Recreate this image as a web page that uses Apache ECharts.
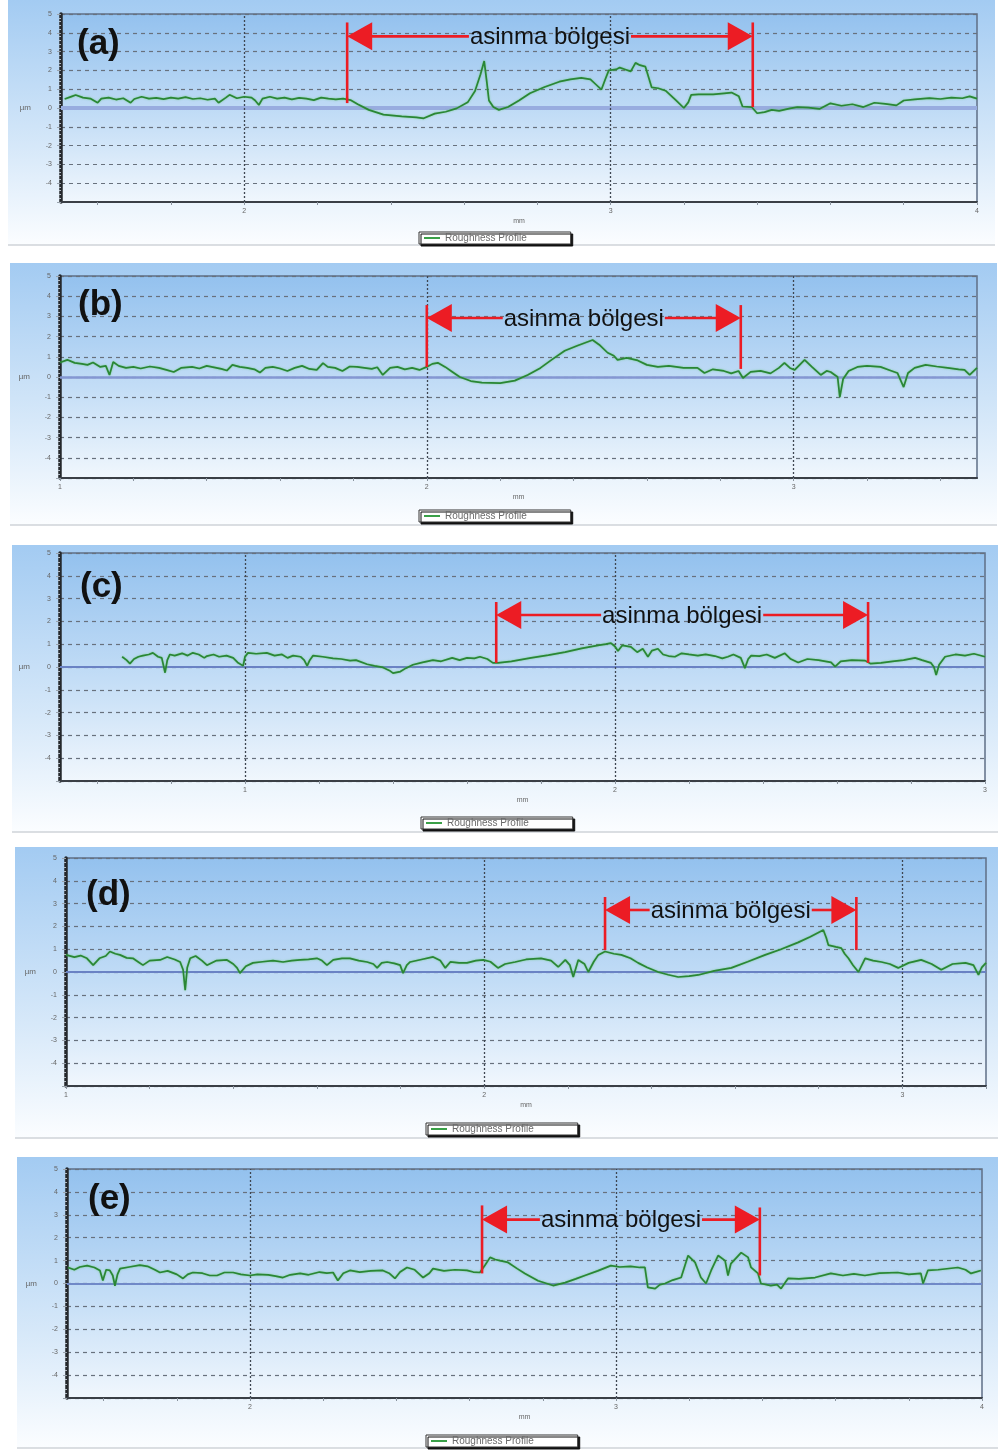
<!DOCTYPE html>
<html><head><meta charset="utf-8">
<script src="https://cdn.jsdelivr.net/npm/echarts@6/dist/echarts.min.js"></script>
<style>html,body{margin:0;padding:0;background:#fff}#c{width:998px;height:1450px}</style>
</head><body><div id="c"></div>
<script>
// ---------------- DATA ----------------
const seriesName = 'Roughness Profile';
const wearLabel = 'asinma bölgesi';
const panelLabels = ['(a)', '(b)', '(c)', '(d)', '(e)'];
const yLabelHidden = -5;

// x ranges (mm)
const xRangeA = [1.5, 4], xRangeB = [1, 3.5], xRangeC = [0.5, 3], xRangeD = [1, 3.2], xRangeE = [1.5, 4];
// x tick & label values
const xTicksA = [1.6,1.8,2.0,2.2,2.4,2.6,2.8,3.0,3.2,3.4,3.6,3.8,4.0];
const xTicksB = [1.0,1.2,1.4,1.6,1.8,2.0,2.2,2.4,2.6,2.8,3.0,3.2,3.4];
const xTicksC = [0.6,0.8,1.0,1.2,1.4,1.6,1.8,2.0,2.2,2.4,2.6,2.8,3.0];
const xTicksD = [1.0,1.2,1.4,1.6,1.8,2.0,2.2,2.4,2.6,2.8,3.0,3.2];
const xTicksE = [1.6,1.8,2.0,2.2,2.4,2.6,2.8,3.0,3.2,3.4,3.6,3.8,4.0];
const xLabelsA = [2, 3, 4], xLabelsB = [1, 2, 3], xLabelsC = [1, 2, 3], xLabelsD = [1, 2, 3], xLabelsE = [2, 3, 4];

// roughness profiles [mm, µm]
const profileA = [[1.51,0.48],[1.53,0.62],[1.54,0.69],[1.56,0.55],[1.58,0.5],[1.60,0.28],[1.61,0.5],[1.63,0.55],[1.65,0.45],[1.67,0.52],[1.69,0.28],[1.70,0.48],[1.72,0.6],[1.74,0.5],[1.76,0.54],[1.78,0.47],[1.80,0.55],[1.82,0.5],[1.84,0.58],[1.86,0.48],[1.88,0.52],[1.90,0.44],[1.92,0.5],[1.93,0.28],[1.95,0.55],[1.96,0.7],[1.98,0.52],[2.00,0.6],[2.02,0.55],[2.03,0.4],[2.04,0.16],[2.05,0.5],[2.07,0.6],[2.09,0.5],[2.11,0.55],[2.13,0.46],[2.15,0.54],[2.17,0.5],[2.19,0.42],[2.21,0.55],[2.23,0.5],[2.25,0.46],[2.27,0.5],[2.29,0.42],
[2.31,0.2],[2.34,-0.1],[2.38,-0.35],[2.43,-0.45],[2.47,-0.5],[2.49,-0.55],[2.52,-0.3],[2.55,-0.2],[2.58,-0.02],[2.61,0.3],[2.63,0.9],[2.645,1.8],[2.655,2.5],[2.662,1.4],[2.668,0.4],[2.68,0.05],[2.695,-0.1],[2.72,0.05],[2.75,0.4],[2.78,0.78],[2.82,1.12],[2.86,1.4],[2.89,1.52],[2.92,1.6],[2.945,1.52],[2.96,1.25],[2.975,0.98],[2.985,1.5],[2.995,2.0],[3.015,2.05],[3.025,2.15],[3.04,2.05],[3.055,1.95],[3.068,2.4],[3.08,2.28],[3.095,2.2],[3.112,1.1],[3.13,1.05],[3.15,0.92],[3.178,0.42],[3.2,0.0],[3.212,0.3],[3.22,0.7],[3.24,0.72],[3.28,0.72],[3.31,0.78],[3.33,0.82],[3.35,0.62],[3.36,0.08],[3.385,0.05],[3.4,-0.28],[3.42,-0.22],[3.44,-0.1],[3.46,-0.15],[3.49,-0.02],[3.51,0.05],[3.54,0.02],[3.57,-0.05],[3.6,0.25],[3.63,0.12],[3.66,0.2],[3.69,0.05],[3.72,0.28],[3.75,0.22],[3.78,0.14],[3.8,0.4],[3.83,0.46],[3.87,0.53],[3.9,0.48],[3.93,0.55],[3.96,0.52],[3.98,0.62],[4.0,0.5]];

const profileB = [[1.0,0.72],[1.02,0.85],[1.04,0.7],[1.06,0.65],[1.075,0.6],[1.09,0.72],[1.11,0.5],[1.125,0.55],[1.135,0.1],[1.145,0.74],[1.16,0.55],[1.18,0.45],[1.2,0.5],[1.22,0.42],[1.245,0.52],[1.27,0.45],[1.29,0.35],[1.31,0.25],[1.33,0.45],[1.36,0.5],[1.38,0.42],[1.4,0.55],[1.42,0.48],[1.44,0.4],[1.455,0.32],[1.47,0.6],[1.49,0.5],[1.51,0.45],[1.53,0.38],[1.545,0.22],[1.56,0.45],[1.58,0.5],[1.6,0.42],[1.62,0.3],[1.64,0.45],[1.66,0.55],[1.68,0.4],[1.7,0.35],[1.717,0.69],[1.73,0.5],[1.75,0.45],[1.77,0.3],[1.79,0.52],[1.81,0.5],[1.83,0.45],[1.85,0.4],[1.865,0.48],[1.88,0.1],[1.9,0.45],[1.92,0.5],[1.94,0.38],[1.96,0.45],[1.98,0.35],[2.0,0.5],
[2.015,0.65],[2.03,0.7],[2.05,0.5],[2.07,0.25],[2.09,0.0],[2.12,-0.2],[2.15,-0.28],[2.2,-0.3],[2.24,-0.18],[2.275,0.1],[2.31,0.45],[2.34,0.85],[2.376,1.3],[2.41,1.55],[2.452,1.83],[2.47,1.6],[2.493,1.2],[2.51,1.05],[2.52,0.85],[2.545,0.95],[2.575,0.82],[2.6,0.6],[2.63,0.5],[2.66,0.55],[2.7,0.45],[2.738,0.45],[2.757,0.2],[2.78,0.38],[2.81,0.3],[2.83,0.18],[2.85,0.3],[2.862,-0.05],[2.883,0.25],[2.91,0.3],[2.937,0.18],[2.96,0.45],[2.975,0.7],[2.99,0.45],[3.003,0.35],[3.03,0.85],[3.05,0.5],[3.074,0.1],[3.09,0.3],[3.101,0.25],[3.12,0.0],[3.126,-1.0],[3.135,-0.1],[3.15,0.3],[3.174,0.5],[3.2,0.55],[3.237,0.5],[3.26,0.35],[3.283,0.2],[3.3,-0.5],[3.312,0.2],[3.33,0.45],[3.36,0.6],[3.39,0.52],[3.42,0.45],[3.45,0.38],[3.466,0.35],[3.48,0.1],[3.5,0.45]];

const profileC = [[0.668,0.45],[0.68,0.3],[0.689,0.15],[0.70,0.35],[0.712,0.45],[0.724,0.5],[0.74,0.55],[0.751,0.62],[0.765,0.45],[0.775,0.4],[0.784,-0.25],[0.79,0.3],[0.797,0.55],[0.81,0.5],[0.83,0.6],[0.845,0.5],[0.859,0.62],[0.875,0.55],[0.89,0.4],[0.897,0.48],[0.915,0.55],[0.93,0.45],[0.95,0.5],[0.968,0.4],[0.98,0.2],[0.995,0.05],[1.0,0.45],[1.008,0.62],[1.03,0.58],[1.059,0.62],[1.08,0.5],[1.1,0.55],[1.115,0.4],[1.13,0.5],[1.15,0.45],[1.16,0.3],[1.168,0.05],[1.175,0.3],[1.184,0.5],[1.21,0.45],[1.238,0.38],[1.26,0.35],[1.284,0.28],[1.3,0.3],[1.33,0.12],[1.35,0.05],[1.373,-0.02],[1.39,-0.15],[1.4,-0.27],[1.42,-0.2],[1.435,-0.05],[1.454,0.1],[1.48,0.2],[1.508,0.3],[1.53,0.25],[1.56,0.4],[1.58,0.3],[1.6,0.4],[1.62,0.38],[1.635,0.45],[1.655,0.35],[1.67,0.18],[1.684,0.18],[1.72,0.25],[1.773,0.4],[1.82,0.52],[1.865,0.65],[1.91,0.82],[1.954,0.95],[1.975,1.0],[1.989,1.05],[2.0,0.9],[2.008,0.7],[2.02,0.95],[2.043,0.88],[2.06,0.65],[2.075,0.8],[2.089,0.45],[2.1,0.72],[2.116,0.8],[2.13,0.55],[2.145,0.48],[2.162,0.45],[2.18,0.6],[2.2,0.55],[2.224,0.5],[2.245,0.55],[2.27,0.48],[2.29,0.38],[2.305,0.45],[2.32,0.55],[2.34,0.4],[2.351,-0.05],[2.36,0.35],[2.368,0.5],[2.39,0.48],[2.41,0.55],[2.432,0.4],[2.459,0.6],[2.475,0.35],[2.495,0.2],[2.52,0.35],[2.55,0.3],[2.584,0.2],[2.595,0.02],[2.61,0.25],[2.64,0.3],[2.676,0.28],[2.69,0.15],[2.719,0.18],[2.75,0.25],[2.78,0.3],[2.811,0.4],[2.83,0.3],[2.854,0.18],[2.862,0.0],[2.868,-0.35],[2.876,0.1],[2.892,0.45],[2.92,0.55],[2.946,0.5],[2.97,0.58],[3.0,0.45]];

const profileD = [[1.0,0.75],[1.02,0.65],[1.035,0.72],[1.05,0.6],[1.065,0.3],[1.08,0.6],[1.095,0.7],[1.105,0.9],[1.118,0.8],[1.129,0.75],[1.145,0.62],[1.16,0.6],[1.172,0.45],[1.184,0.3],[1.2,0.5],[1.225,0.53],[1.242,0.66],[1.26,0.55],[1.273,0.44],[1.28,0.1],[1.285,-0.8],[1.29,0.2],[1.297,0.6],[1.31,0.7],[1.325,0.5],[1.337,0.3],[1.36,0.5],[1.385,0.53],[1.4,0.35],[1.409,0.18],[1.416,-0.05],[1.43,0.25],[1.447,0.4],[1.47,0.45],[1.495,0.5],[1.519,0.44],[1.54,0.5],[1.56,0.53],[1.58,0.55],[1.6,0.6],[1.612,0.5],[1.624,0.3],[1.639,0.53],[1.66,0.6],[1.679,0.6],[1.7,0.5],[1.72,0.44],[1.735,0.35],[1.744,0.18],[1.755,0.4],[1.768,0.44],[1.785,0.38],[1.799,0.3],[1.806,-0.05],[1.815,0.3],[1.823,0.44],[1.85,0.55],[1.878,0.66],[1.895,0.5],[1.907,0.18],[1.919,0.44],[1.94,0.4],[1.959,0.4],[1.98,0.5],[1.998,0.53],[2.015,0.45],[2.033,0.18],[2.05,0.35],[2.074,0.44],[2.1,0.55],[2.136,0.6],[2.16,0.5],[2.177,0.22],[2.194,0.53],[2.205,0.3],[2.213,-0.22],[2.225,0.53],[2.24,0.35],[2.249,0.0],[2.262,0.45],[2.273,0.75],[2.289,0.9],[2.31,0.8],[2.328,0.75],[2.35,0.6],[2.368,0.4],[2.39,0.2],[2.416,0.0],[2.44,-0.12],[2.464,-0.22],[2.49,-0.18],[2.512,-0.13],[2.55,0.05],[2.591,0.18],[2.63,0.45],[2.672,0.75],[2.71,1.0],[2.751,1.3],[2.78,1.55],[2.811,1.84],[2.818,1.5],[2.823,1.18],[2.841,1.1],[2.854,1.05],[2.862,0.8],[2.871,0.6],[2.882,0.3],[2.895,0.0],[2.911,0.6],[2.93,0.5],[2.95,0.44],[2.97,0.35],[2.99,0.18],[3.015,0.4],[3.045,0.53],[3.07,0.35],[3.093,0.1],[3.12,0.35],[3.151,0.4],[3.17,0.3],[3.182,-0.13],[3.19,0.2],[3.2,0.4]];

const profileE = [[1.503,0.7],[1.52,0.6],[1.535,0.72],[1.555,0.78],[1.575,0.7],[1.59,0.57],[1.598,0.13],[1.607,0.6],[1.617,0.57],[1.625,0.35],[1.631,-0.1],[1.638,0.4],[1.645,0.65],[1.67,0.72],[1.699,0.8],[1.72,0.75],[1.74,0.6],[1.754,0.48],[1.775,0.55],[1.8,0.4],[1.817,0.22],[1.83,0.4],[1.844,0.48],[1.87,0.45],[1.89,0.35],[1.91,0.35],[1.93,0.48],[1.954,0.48],[1.975,0.4],[2.0,0.35],[2.02,0.4],[2.05,0.38],[2.07,0.32],[2.09,0.26],[2.11,0.38],[2.137,0.44],[2.16,0.38],[2.19,0.5],[2.21,0.45],[2.227,0.48],[2.24,0.13],[2.255,0.45],[2.273,0.57],[2.3,0.5],[2.33,0.55],[2.363,0.57],[2.38,0.45],[2.396,0.22],[2.41,0.5],[2.429,0.7],[2.45,0.6],[2.473,0.26],[2.49,0.45],[2.5,0.65],[2.53,0.55],[2.56,0.6],[2.593,0.57],[2.61,0.5],[2.628,0.48],[2.642,0.8],[2.656,1.14],[2.67,1.05],[2.683,1.0],[2.705,0.92],[2.73,0.65],[2.751,0.44],[2.787,0.12],[2.828,-0.09],[2.861,0.04],[2.89,0.2],[2.915,0.35],[2.95,0.55],[2.986,0.78],[3.01,0.72],[3.04,0.75],[3.065,0.7],[3.079,0.7],[3.087,-0.17],[3.107,-0.22],[3.12,-0.05],[3.134,0.0],[3.155,0.15],[3.178,0.26],[3.197,1.22],[3.216,0.92],[3.232,0.26],[3.246,0.0],[3.26,0.57],[3.279,1.22],[3.298,1.0],[3.306,0.35],[3.314,0.87],[3.342,1.35],[3.361,1.14],[3.369,0.7],[3.388,0.44],[3.396,0.0],[3.423,-0.09],[3.44,-0.05],[3.451,-0.22],[3.47,0.22],[3.5,0.2],[3.544,0.26],[3.587,0.44],[3.62,0.35],[3.65,0.42],[3.68,0.35],[3.72,0.45],[3.77,0.48],[3.8,0.4],[3.833,0.44],[3.839,0.0],[3.852,0.57],[3.88,0.6],[3.934,0.7],[3.955,0.6],[3.97,0.44],[3.997,0.57]];

// wear zones: [x start, x end] (mm), marker line spans [top, bottom] (µm), arrow level (µm)
const wearZoneA = [2.281, 3.388], wearLinesA = [[4.55, 0.26], [4.55, 0.05]], arrowYA = 3.81;
const wearZoneB = [2.0, 2.856],   wearLinesB = [[3.56, 0.5],  [3.56, 0.4]],  arrowYB = 2.92;
const wearZoneC = [1.679, 2.684], wearLinesC = [[2.85, 0.18], [2.85, 0.18]], arrowYC = 2.28;
const wearZoneD = [2.289, 2.89],  wearLinesD = [[3.29, 0.96], [3.29, 0.96]], arrowYD = 2.72;
const wearZoneE = [2.634, 3.393], wearLinesE = [[3.41, 0.44], [3.32, 0.35]], arrowYE = 2.79;

// ---------------- LAYOUT / STYLE ----------------
const FONT = "'Liberation Sans', Arial, Helvetica, sans-serif";
const RED = '#ec1c24';
const panels = [
  {prof: profileA, xr: xRangeA, ticks: xTicksA, labels: xLabelsA, wz: wearZoneA, wl: wearLinesA, ay: arrowYA,
   grid: {left: 61, top: 14, width: 916, height: 188}, box: [8, 0, 987, 245], legend: [419, 232], title: [77, 44], zero: {c: '#98acdf', w: 4}},
  {prof: profileB, xr: xRangeB, ticks: xTicksB, labels: xLabelsB, wz: wearZoneB, wl: wearLinesB, ay: arrowYB,
   grid: {left: 60, top: 276, width: 917, height: 202}, box: [10, 263, 987, 262], legend: [419, 510], title: [78, 305], zero: {c: '#8497d2', w: 2.5}},
  {prof: profileC, xr: xRangeC, ticks: xTicksC, labels: xLabelsC, wz: wearZoneC, wl: wearLinesC, ay: arrowYC,
   grid: {left: 60, top: 553, width: 925, height: 228}, box: [12, 545, 986, 287], legend: [421, 817], title: [80, 587], zero: {c: '#6a82c4', w: 2}},
  {prof: profileD, xr: xRangeD, ticks: xTicksD, labels: xLabelsD, wz: wearZoneD, wl: wearLinesD, ay: arrowYD,
   grid: {left: 66, top: 858, width: 920, height: 228}, box: [15, 847, 983, 291], legend: [426, 1123], title: [86, 895], zero: {c: '#6a82c4', w: 1.8}},
  {prof: profileE, xr: xRangeE, ticks: xTicksE, labels: xLabelsE, wz: wearZoneE, wl: wearLinesE, ay: arrowYE,
   grid: {left: 67, top: 1169, width: 915, height: 229}, box: [17, 1157, 981, 291], legend: [426, 1435], title: [88, 1199], zero: {c: '#7089c8', w: 2}}
];

const plotBg = {type: 'linear', x: 0, y: 0, x2: 0, y2: 1, colorStops: [
  {offset: 0, color: '#93c1ee'}, {offset: 0.55, color: '#c3ddf6'}, {offset: 1, color: '#f1f7fd'}]};
const panelBg = {type: 'linear', x: 0, y: 0, x2: 0, y2: 1, colorStops: [
  {offset: 0, color: '#a3cbf2'}, {offset: 0.6, color: '#d6e8f9'}, {offset: 1, color: '#fbfdff'}]};

const option = {
  animation: false,
  backgroundColor: '#ffffff',
  title: panels.map((p, i) => ({
    text: panelLabels[i], left: p.title[0], top: p.title[1] - 19, padding: 0,
    textStyle: {fontSize: 35, fontWeight: 'bold', fontFamily: FONT, color: '#111', lineHeight: 38}
  })),
  legend: panels.map((p, i) => ({
    data: [seriesName], left: p.legend[0], top: p.legend[1], orient: 'horizontal',
    icon: 'rect', itemWidth: 16, itemHeight: 2, itemGap: 4,
    padding: [1, 44, 1, 5], backgroundColor: '#ffffff', borderColor: '#333', borderWidth: 1, borderRadius: 0,
    shadowColor: '#111', shadowOffsetX: 2, shadowOffsetY: 2, shadowBlur: 0,
    selectedMode: false,
    textStyle: {fontSize: 10, lineHeight: 8, color: '#6a6a6a', fontFamily: FONT, letterSpacing: 0.6}
  })),
  grid: panels.map(p => Object.assign({show: true, backgroundColor: plotBg, borderColor: '#5f6f86', borderWidth: 1.5, containLabel: false}, p.grid)),
  xAxis: panels.map((p, i) => ({
    type: 'value', gridIndex: i, min: p.xr[0], max: p.xr[1],
    axisLine: {show: true, onZero: false, lineStyle: {color: '#3a3f46', width: 2}},
    axisTick: {show: true, customValues: p.ticks, length: 3, lineStyle: {color: '#8a939e'}},
    axisLabel: {show: true, customValues: p.labels, fontSize: 7, color: '#666', margin: 6, fontFamily: FONT},
    splitLine: {show: false},
    name: 'mm', nameLocation: 'middle', nameGap: 16,
    nameTextStyle: {fontSize: 7, color: '#666', fontFamily: FONT}
  })),
  yAxis: panels.map((p, i) => ({
    type: 'value', gridIndex: i, min: -5, max: 5, interval: 1,
    axisLine: {show: true, onZero: false, lineStyle: {color: '#25282c', width: 3.5}},
    axisTick: {show: true, length: 4, lineStyle: {color: '#9aa3ad'}},
    minorTick: {show: true, splitNumber: 5, length: 2, lineStyle: {color: '#b3bbc4'}},
    axisLabel: {fontSize: 7, color: '#666', margin: 9, fontFamily: FONT,
      formatter: v => (v === yLabelHidden ? '' : String(v))},
    splitLine: {show: true, lineStyle: {color: '#68717d', type: [4, 4], width: 1.2}},
    name: 'µm', nameLocation: 'middle', nameRotate: 0, nameGap: 30,
    nameTextStyle: {fontSize: 8, color: '#666', fontFamily: FONT}
  })),
  series: []
};

panels.forEach((p, i) => {
  const refLines = [{yAxis: 0, lineStyle: {color: p.zero.c, width: p.zero.w, type: 'solid'}}];
  p.labels.forEach(v => {
    if (v > p.xr[0] && v < p.xr[1]) refLines.push({xAxis: v, lineStyle: {color: '#3e4651', width: 1.3, type: [2, 2]}});
  });
  option.series.push({
    type: 'line', name: 'ref' + i, xAxisIndex: i, yAxisIndex: i, data: [], z: 1, silent: true,
    markLine: {silent: true, symbol: 'none', label: {show: false}, animation: false, data: refLines}
  });
  option.series.push({
    type: 'line', name: seriesName, xAxisIndex: i, yAxisIndex: i, data: p.prof, z: 5,
    showSymbol: false, symbol: 'none', smooth: false, silent: true,
    lineStyle: {color: '#2a8635', width: 1.7, shadowColor: 'rgba(90,200,100,0.7)', shadowBlur: 2},
    itemStyle: {color: '#3aa048'}
  });
});

const chart = echarts.init(document.getElementById('c'), null, {renderer: 'canvas', width: 998, height: 1450});
chart.setOption(option);

// ------------- annotations (positioned through the axes) -------------
const ctx = document.createElement('canvas').getContext('2d');
const WEAR_FONT = "24px 'Liberation Sans', Arial, sans-serif";
ctx.font = WEAR_FONT;
const textW = ctx.measureText(wearLabel).width;

const graphics = [];
panels.forEach((p, i) => {
  const b = p.box;
  graphics.push({type: 'rect', shape: {x: b[0], y: b[1], width: b[2], height: b[3]}, style: {fill: panelBg}, z: -100, silent: true});
  graphics.push({type: 'line', shape: {x1: b[0], y1: b[1] + b[3], x2: b[0] + b[2], y2: b[1] + b[3]}, style: {stroke: '#cfd3d8', lineWidth: 1.5}, z: -99, silent: true});

  const px = (x, y) => chart.convertToPixel({gridIndex: i}, [x, y]);
  const L0 = px(p.wz[0], p.wl[0][0]), L1 = px(p.wz[0], p.wl[0][1]);
  const R0 = px(p.wz[1], p.wl[1][0]), R1 = px(p.wz[1], p.wl[1][1]);
  const ay = px(p.wz[0], p.ay)[1];
  const lx = L0[0], rx = R0[0];
  const mid = (lx + rx) / 2;
  const head = 25, half = 14, lw = 2.6;
  const st = {stroke: RED, lineWidth: lw};
  graphics.push({type: 'line', shape: {x1: lx, y1: L0[1], x2: lx, y2: L1[1]}, style: st, z: 50, silent: true});
  graphics.push({type: 'line', shape: {x1: rx, y1: R0[1], x2: rx, y2: R1[1]}, style: st, z: 50, silent: true});
  graphics.push({type: 'polygon', shape: {points: [[lx, ay], [lx + head, ay - half], [lx + head, ay + half]]}, style: {fill: RED}, z: 51, silent: true});
  graphics.push({type: 'polygon', shape: {points: [[rx, ay], [rx - head, ay - half], [rx - head, ay + half]]}, style: {fill: RED}, z: 51, silent: true});
  graphics.push({type: 'line', shape: {x1: lx + head - 1, y1: ay, x2: mid - textW / 2 - 1, y2: ay}, style: st, z: 50, silent: true});
  graphics.push({type: 'line', shape: {x1: mid + textW / 2 + 1, y1: ay, x2: rx - head + 1, y2: ay}, style: st, z: 50, silent: true});
  graphics.push({type: 'text', x: mid, y: ay + 1, style: {text: wearLabel, font: WEAR_FONT, fill: '#111', align: 'center', verticalAlign: 'middle'}, z: 52, silent: true});
});
chart.setOption({graphic: graphics});
</script></body></html>
